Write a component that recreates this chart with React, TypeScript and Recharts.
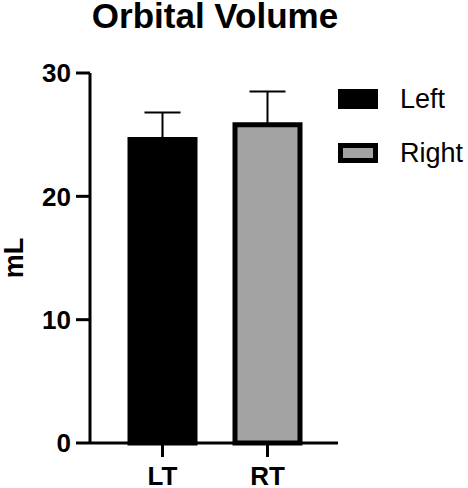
import { BarChart, Bar, XAxis, YAxis, ErrorBar, Cell, Label } from "recharts";

// values
const categories = ["LT", "RT"];
const means = [24.6, 25.8];
const sdUpper = [2.2, 2.7];
const yTicks = [0, 10, 20, 30];
const legendNames = ["Left", "Right"];

const COLORS = ["#000000", "#a3a3a3"]; // black + gray

const FONT = "'Liberation Sans', Arial, Helvetica, sans-serif";

const data = categories.map((name, i) => ({
  name,
  value: means[i],
  err: [0, sdUpper[i]],
}));

const tickStyle = { fill: "#000", fontSize: 26, fontWeight: 700, fontFamily: FONT };

export default function App() {
  return (
    <div style={{ position: "absolute", left: 0, top: 0, width: 468, height: 488, background: "#fff" }}>
      <BarChart
        width={468}
        height={488}
        data={data}
        margin={{ top: 73, right: 130, bottom: 0, left: 0 }}
      >
        <XAxis
          dataKey="name"
          height={45}
          padding={{ left: 20, right: 18 }}
          axisLine={{ stroke: "#000", strokeWidth: 3 }}
          tickLine={{ stroke: "#000", strokeWidth: 3 }}
          tickSize={14}
          tickMargin={10}
          tick={tickStyle}
        />
        <YAxis
          width={90}
          domain={[0, 30]}
          ticks={yTicks}
          interval={0}
          axisLine={{ stroke: "#000", strokeWidth: 3 }}
          tickLine={{ stroke: "#000", strokeWidth: 3 }}
          tickSize={14}
          tickMargin={5}
          tick={tickStyle}
        >
          <Label
            content={() => (
              <text
                x={14}
                y={258}
                transform="rotate(-90, 14, 258)"
                textAnchor="middle"
                dominantBaseline="central"
                style={{ fontSize: 27, fontWeight: 700, fontFamily: FONT, fill: "#000" }}
              >
                mL
              </text>
            )}
          />
        </YAxis>
        <Bar dataKey="value" barSize={65} isAnimationActive={false}>
          {data.map((_, i) => (
            <Cell key={i} fill={COLORS[i]} stroke="#000" strokeWidth={5} />
          ))}
          <ErrorBar dataKey="err" direction="y" width={18} stroke="#000" strokeWidth={2} />
        </Bar>
      </BarChart>

      {/* title + legend */}
      <svg
        width={468}
        height={488}
        style={{ position: "absolute", left: 0, top: 0, pointerEvents: "none" }}
      >
        <text
          x={215}
          y={28}
          textAnchor="middle"
          style={{ fontSize: 35, fontWeight: 700, fontFamily: FONT, fill: "#000" }}
        >
          Orbital Volume
        </text>
        {legendNames.map((name, i) => (
          <g key={name}>
            <rect
              x={340.5}
              y={91.5 + i * 54}
              width={35}
              height={15}
              fill={COLORS[i]}
              stroke="#000"
              strokeWidth={5}
            />
            <text
              x={400}
              y={108 + i * 54}
              style={{ fontSize: 27, fontFamily: FONT, fill: "#000" }}
            >
              {name}
            </text>
          </g>
        ))}
      </svg>
    </div>
  );
}
